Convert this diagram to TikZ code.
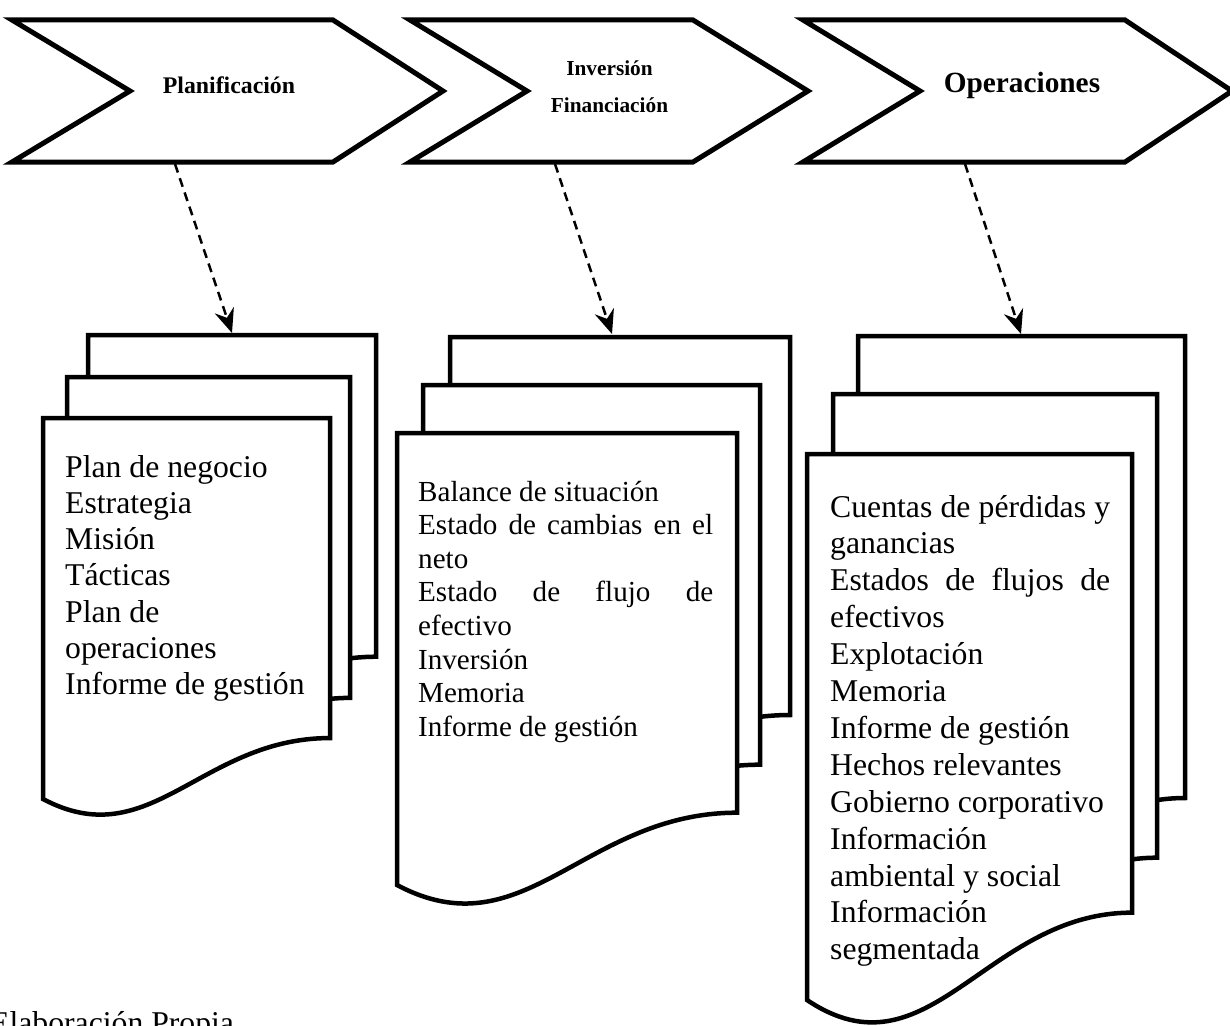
\documentclass[tikz,border=0pt]{standalone}
\usepackage{fontspec}
\setmainfont{Liberation Serif}
\usetikzlibrary{arrows.meta}
\tikzset{
  chev/.style={draw=black, fill=white, line width=5pt, line join=miter},
  page/.style={draw=black, fill=white, line width=4.5pt, line join=miter},
  flow/.style={line width=2.5pt, dash pattern=on 9pt off 6pt,
    -{Stealth[length=24pt,width=20pt,inset=8pt]}},
  chevlabel/.style={anchor=base, inner sep=0pt, font=\bfseries},
  doctext/.style={anchor=base west, inner sep=0pt},
}
\newcommand\docpage[4]{%
  \filldraw[page] (#1,#2) -- (#3,#2) -- (#3,{#2+0.84*#4})
    .. controls ({#1+0.55*(#3-#1)},{#2+0.84*#4}) and ({#1+0.375*(#3-#1)},{#2+1.15*#4})
    .. (#1,{#2+#4}) -- cycle;}
\newcommand\jl[1]{\makebox[\linewidth][s]{#1}}
\begin{document}
\begin{tikzpicture}[x=1pt, y=-1pt]
\useasboundingbox (0,0) rectangle (1230,1025);

% chevrons
\filldraw[chev] (12,20) -- (333,20) -- (443,91) -- (333,162) -- (12,162) -- (130,91) -- cycle;
\filldraw[chev] (410,20) -- (693,20) -- (808,91) -- (693,162) -- (410,162) -- (527,91) -- cycle;
\filldraw[chev] (803,20) -- (1125,20) -- (1232,91) -- (1125,162) -- (803,162) -- (920,91) -- cycle;

\node[chevlabel, font=\bfseries\fontsize{23.8}{28}\selectfont] (t1) at (229,93) {Planificación};
\node[chevlabel, font=\bfseries\fontsize{21.3}{26}\selectfont] (t2a) at (609.5,75) {Inversión};
\node[chevlabel, font=\bfseries\fontsize{21.3}{26}\selectfont] (t2b) at (609.5,112) {Financiación};
\node[chevlabel, font=\bfseries\fontsize{29.3}{34}\selectfont] (t3) at (1022,92) {Operaciones};

% document stacks
\docpage{88}{335}{376}{383}
\docpage{67}{377}{350}{382}
\docpage{43}{418}{330}{381}

\docpage{450}{337}{790}{450}
\docpage{423}{385}{760}{452}
\docpage{397}{433}{737}{452}

\docpage{858}{336}{1185}{550}
\docpage{833}{394}{1157}{552}
\docpage{807}{454}{1132}{546}

\node[doctext] (d1) at (65,477) {\parbox[t]{260pt}{\fontsize{31.7}{36.3}\selectfont
Plan de negocio\\
Estrategia\\
Misión\\
Tácticas\\
Plan de\\
operaciones\\
Informe de gestión}};

\node[doctext] (d2) at (418,501) {\parbox[t]{295pt}{\fontsize{29.1}{33.6}\selectfont
Balance de situación\\
\jl{Estado de cambias en el}\\
neto\\
\jl{Estado de flujo de}\\
efectivo\\
Inversión\\
Memoria\\
Informe de gestión}};

\node[doctext] (d3) at (830,517) {\parbox[t]{280pt}{\fontsize{31.7}{36.9}\selectfont
\jl{Cuentas de pérdidas y}\\
ganancias\\
\jl{Estados de flujos de}\\
efectivos\\
Explotación\\
Memoria\\
Informe de gestión\\
Hechos relevantes\\
Gobierno corporativo\\
Información\\
ambiental y social\\
Información\\
segmentada}};

% connectors
\coordinate (a1s) at (175,164);
\coordinate (a1e) at (232,333);
\coordinate (a2s) at (555,164);
\coordinate (a2e) at (612,334);
\coordinate (a3s) at (965,164);
\coordinate (a3e) at (1021,334);
\draw[flow] (a1s) -- (a1e);
\draw[flow] (a2s) -- (a2e);
\draw[flow] (a3s) -- (a3e);

\node[doctext, font=\fontsize{31.7}{36}\selectfont] (src) at (-10,1033) {Elaboración Propia};
\end{tikzpicture}
\end{document}
